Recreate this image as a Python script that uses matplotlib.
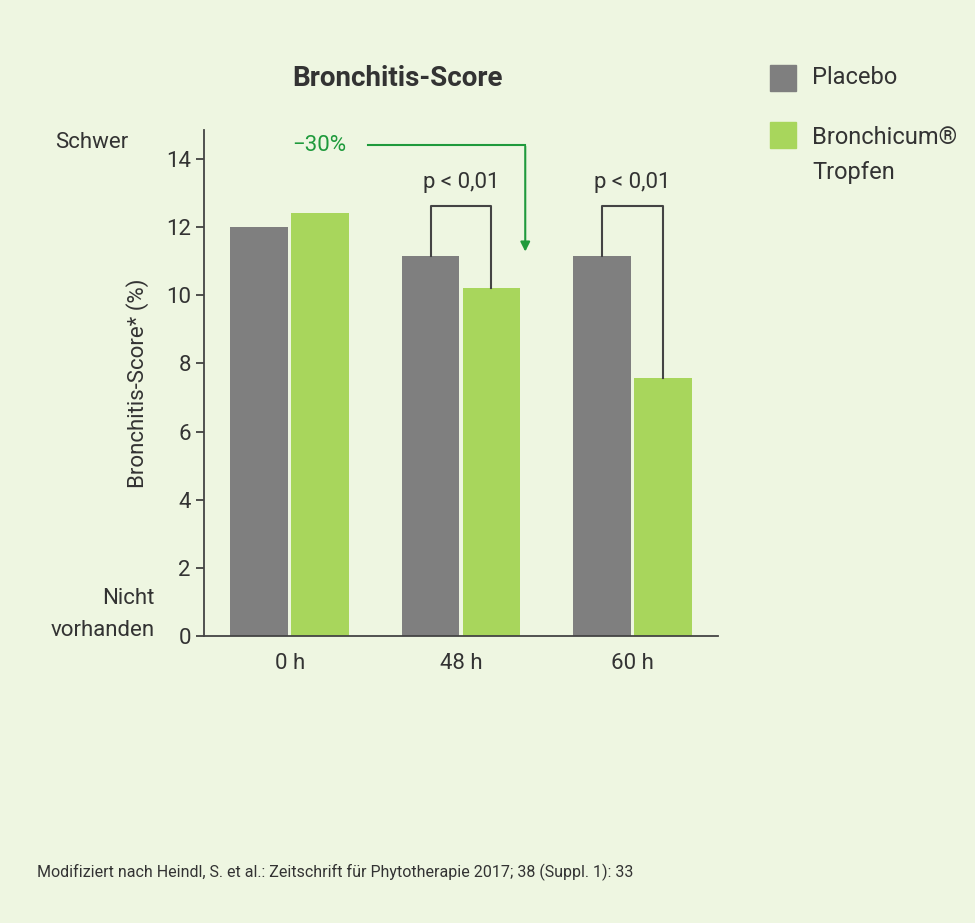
import matplotlib.pyplot as plt
import matplotlib.patches as mpatches
import numpy as np

plt.rcParams["font.family"] = "Roboto"

categories = ["0 h", "48 h", "60 h"]
placebo = [12.0, 11.15, 11.15]
bronchicum = [12.4, 10.2, 7.57]
yticks = [0, 2, 4, 6, 8, 10, 12, 14]

bg = "#eef6e1"
grey = "#7f7f7f"
green = "#a8d65c"
dark_green = "#1f9a3c"
txt = "#333333"

fig = plt.figure(figsize=(9.75, 9.23), dpi=100, facecolor=bg)
W, H = 975, 923
ax = fig.add_axes([204 / W, 1 - 636 / H, (718 - 204) / W, (636 - 130) / H])
ax.set_facecolor(bg)

x = np.arange(len(categories))
w = 0.335
off = 0.178
ax.bar(x - off, placebo, w, color=grey)
ax.bar(x + off, bronchicum, w, color=green)

ax.set_xlim(-0.5, 2.5)
ax.set_ylim(0, 14.85)
ax.set_yticks(yticks)
ax.set_xticks(x)
ax.set_xticklabels(categories)
ax.tick_params(labelsize=16, colors=txt, length=6, width=1.2)
ax.tick_params(axis="x", length=0, pad=12)
for s in ["top", "right"]:
    ax.spines[s].set_visible(False)
for s in ["left", "bottom"]:
    ax.spines[s].set_color("#444444")
    ax.spines[s].set_linewidth(1.3)
ax.set_ylabel("Bronchitis-Score* (%)", fontsize=16, color=txt, labelpad=12)

# significance brackets
for i in [1, 2]:
    top = 12.62
    ax.plot([i - off, i - off, i + off, i + off],
            [placebo[i], top, top, bronchicum[i]], color="#444444", lw=1.5)
    ax.text(i, 13.3, "p < 0,01", ha="center", va="center", fontsize=16, color=txt)

# -30% arrow
ax.text(0.175, 14.4, "\u221230%", ha="center", va="center", fontsize=16, color=dark_green)
ax.plot([0.455, 1.375], [14.4, 14.4], color=dark_green, lw=1.5)
ax.annotate("", xy=(1.375, 11.2), xytext=(1.375, 14.45),
            arrowprops=dict(arrowstyle="-|>", color=dark_green, lw=1.5, mutation_scale=14))

fig.text(397 / W, 1 - 78 / H, "Bronchitis-Score", ha="center", va="center",
         fontsize=20, fontweight="bold", color=txt)
fig.text(128 / W, 1 - 142 / H, "Schwer", ha="right", va="center", fontsize=16, color=txt)
fig.text(155 / W, 1 - 598 / H, "Nicht", ha="right", va="center", fontsize=16, color=txt)
fig.text(155 / W, 1 - 630 / H, "vorhanden", ha="right", va="center", fontsize=16, color=txt)

# legend
fig.patches.append(mpatches.Rectangle((770 / W, 1 - 91 / H), 26 / W, 26 / H,
                                      transform=fig.transFigure, color=grey))
fig.patches.append(mpatches.Rectangle((770 / W, 1 - 148 / H), 26 / W, 26 / H,
                                      transform=fig.transFigure, color=green))
fig.text(812 / W, 1 - 78 / H, "Placebo", va="center", fontsize=17, color=txt)
fig.text(812 / W, 1 - 138 / H, "Bronchicum\u00ae", va="center", fontsize=17, color=txt)
fig.text(812 / W, 1 - 172 / H, "Tropfen", va="center", fontsize=17, color=txt)

fig.text(37 / W, 1 - 872 / H,
         "Modifiziert nach Heindl, S. et al.: Zeitschrift f\u00fcr Phytotherapie 2017; 38 (Suppl. 1): 33",
         va="center", fontsize=11.5, color=txt)

fig.savefig("out.png", dpi=100, facecolor=bg)
